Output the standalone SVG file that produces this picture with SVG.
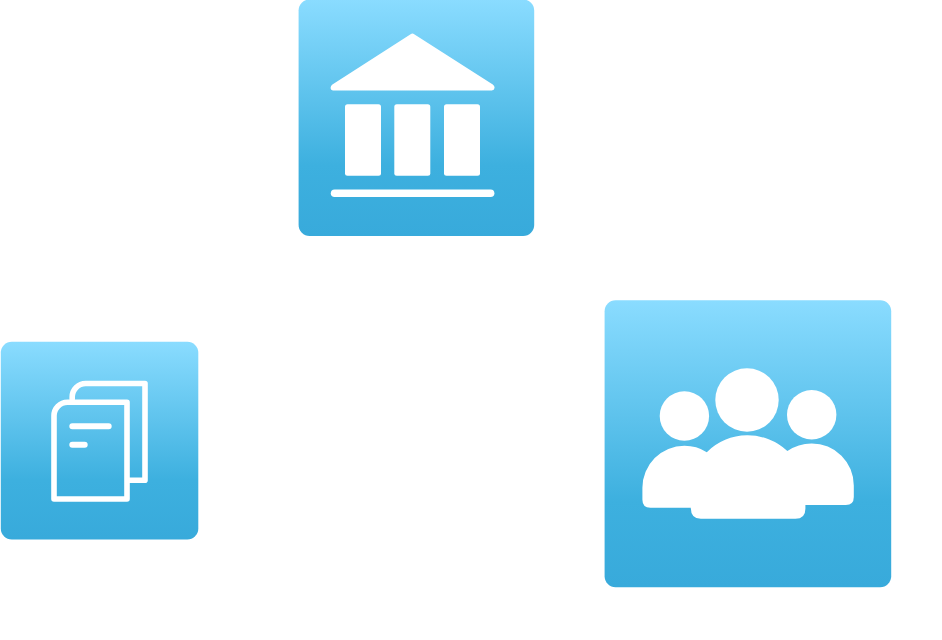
<svg xmlns="http://www.w3.org/2000/svg" width="942" height="640" viewBox="0 0 942 640">
  <style>
    .tile { fill: url(#tile); }
    .solid { fill: #fff; }
    .line { fill: none; stroke: #fff; stroke-linecap: round; stroke-linejoin: round; }
  </style>
  <defs>
    <linearGradient id="tile" x1="0" y1="0" x2="0" y2="1">
      <stop offset="0" stop-color="#8adcff"/>
      <stop offset="0.7" stop-color="#3db0df"/>
      <stop offset="1" stop-color="#38aadb"/>
    </linearGradient>
  </defs>
  <rect width="942" height="640" fill="#fff"/>
  <g id="node-bank">
    <rect class="tile" x="298.6" y="-0.5" width="235.6" height="236.4" rx="11"/>
    <path class="solid" d="M410.6 34.2Q412.4 32.9 414.2 34.2L492.8 84.5Q494.6 85.8 494.6 87.8Q494.3 90.4 491.8 90.4H333.2Q330.7 90.4 330.6 87.8Q330.6 85.8 332.4 84.5Z"/>
    <rect class="solid" x="345" y="104.3" width="36" height="71.5" rx="2.5"/>
    <rect class="solid" x="394.3" y="104.3" width="36" height="71.5" rx="2.5"/>
    <rect class="solid" x="444" y="104.3" width="36" height="71.5" rx="2.5"/>
    <rect class="solid" x="330.8" y="189.4" width="163.6" height="7.6" rx="3.8"/>
  </g>
  <g id="node-documents">
    <rect class="tile" x="0.8" y="341.8" width="197.5" height="197.6" rx="11"/>
    <path class="line" stroke-width="5.6" d="M72.2 399V397A13.5 13.5 0 0 1 85.7 383.5H145V480.3H129"/>
    <path class="line" stroke-width="5.6" d="M54 499V415.7A13.5 13.5 0 0 1 67.5 402.2H127V499Z"/>
    <path class="line" stroke-width="6" d="M72.3 426.3H108.7M72.3 444.7H84.7"/>
  </g>
  <g id="node-people">
    <rect class="tile" x="604.6" y="300.2" width="286.6" height="287" rx="11"/>
    <circle class="solid" cx="747" cy="400" r="31.7"/>
    <circle class="solid" cx="684.4" cy="416" r="24.7"/>
    <circle class="solid" cx="811.7" cy="414.7" r="24.7"/>
    <path class="solid" d="M642.4 487.8A42 42 0 0 1 684.4 445.8A42 42 0 0 1 706.8 452.2A58 58 0 0 1 787.4 451A42 42 0 0 1 811.7 443.4A42 42 0 0 1 853.8 485.4V497Q853.8 505 845.8 505H805.4V508.7Q805.4 518.8 795.4 518.8H700.8Q690.8 518.8 690.8 507.8H650.4Q642.4 507.8 642.4 499.8Z"/>
  </g>
</svg>
